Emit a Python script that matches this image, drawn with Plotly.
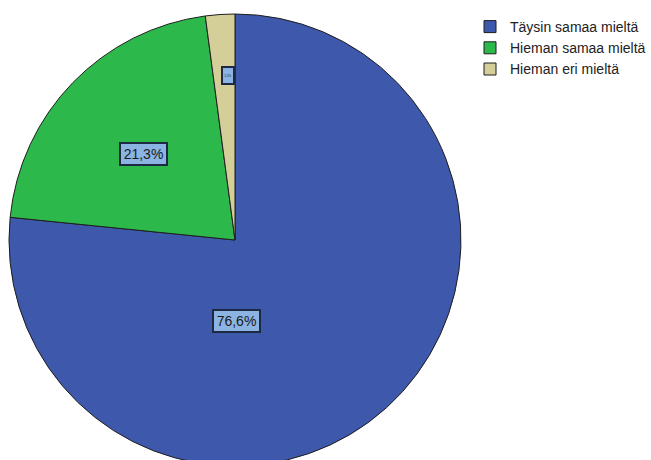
import plotly.graph_objects as go

categories = ["Täysin samaa mieltä", "Hieman samaa mieltä", "Hieman eri mieltä"]
values = [76.6, 21.3, 2.1]
label_texts = ["76,6%", "21,3%", "2,1%"]
colors = ["#3e58ac", "#2db84b", "#d4ce98"]

W, H = 651, 472
cx, cy, r = 235, 240, 226

def px(x):
    return x / W

def py(y):
    return 1 - y / H

fig = go.Figure(go.Pie(
    labels=categories, values=values, sort=False, direction="clockwise",
    rotation=0, textinfo="none", hoverinfo="label+percent",
    marker=dict(colors=colors, line=dict(color="#1e1e1e", width=1)),
    domain=dict(x=[px(cx - r), px(cx + r)], y=[py(cy + r), py(cy - r)]),
))

label_pos = [(236, 321), (143, 154), (228, 75)]
label_fonts = [14, 14, 3]
label_boxes = [(43, 18), (43, 18), (8, 13)]
for t, (x, y), s, (bw, bh) in zip(label_texts, label_pos, label_fonts, label_boxes):
    fig.add_annotation(x=px(x), y=py(y), xref="paper", yref="paper", text=t,
                       xanchor="center", yanchor="middle",
                       width=bw, height=bh, align="center", valign="middle",
                       showarrow=False, font=dict(family="Arial", size=s, color="#1a1a1a"),
                       bgcolor="#8cb4e2", bordercolor="#1e2a44", borderwidth=2,
                       borderpad=1)

fig.update_layout(
    width=W, height=H, margin=dict(l=0, r=0, t=0, b=0),
    paper_bgcolor="white", plot_bgcolor="white",
    showlegend=True,
    legend=dict(x=px(470), y=py(11), xanchor="left", yanchor="top",
                font=dict(family="Arial", size=14, color="#222"),
                itemwidth=30, tracegroupgap=0, bgcolor="rgba(0,0,0,0)"),
)
fig.write_html("out.html")
